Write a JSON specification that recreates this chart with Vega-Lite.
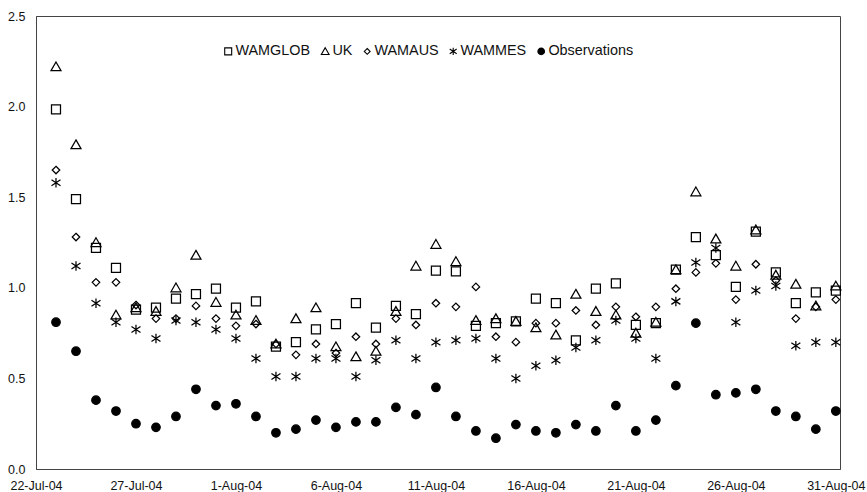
{
  "$schema": "https://vega.github.io/schema/vega-lite/v6.json",
  "autosize": {"type": "none"},
  "width": 804,
  "height": 453,
  "padding": {"left": 36, "top": 16, "right": 27, "bottom": 23},
  "background": "white",
  "data": {
    "values": [
      {"date": "2004-07-23", "WAMGLOB": 1.985, "UK": 2.22, "WAMAUS": 1.65, "WAMMES": 1.58, "Observations": 0.81},
      {"date": "2004-07-24", "WAMGLOB": 1.49, "UK": 1.79, "WAMAUS": 1.28, "WAMMES": 1.12, "Observations": 0.65},
      {"date": "2004-07-25", "WAMGLOB": 1.22, "UK": 1.25, "WAMAUS": 1.03, "WAMMES": 0.915, "Observations": 0.38},
      {"date": "2004-07-26", "WAMGLOB": 1.11, "UK": 0.85, "WAMAUS": 1.03, "WAMMES": 0.81, "Observations": 0.32},
      {"date": "2004-07-27", "WAMGLOB": 0.88, "UK": 0.89, "WAMAUS": 0.905, "WAMMES": 0.77, "Observations": 0.25},
      {"date": "2004-07-28", "WAMGLOB": 0.89, "UK": 0.87, "WAMAUS": 0.83, "WAMMES": 0.72, "Observations": 0.23},
      {"date": "2004-07-29", "WAMGLOB": 0.94, "UK": 1.0, "WAMAUS": 0.83, "WAMMES": 0.82, "Observations": 0.29},
      {"date": "2004-07-30", "WAMGLOB": 0.965, "UK": 1.18, "WAMAUS": 0.9, "WAMMES": 0.81, "Observations": 0.44},
      {"date": "2004-07-31", "WAMGLOB": 0.995, "UK": 0.92, "WAMAUS": 0.83, "WAMMES": 0.77, "Observations": 0.35},
      {"date": "2004-08-01", "WAMGLOB": 0.89, "UK": 0.85, "WAMAUS": 0.79, "WAMMES": 0.72, "Observations": 0.36},
      {"date": "2004-08-02", "WAMGLOB": 0.925, "UK": 0.82, "WAMAUS": 0.8, "WAMMES": 0.61, "Observations": 0.29},
      {"date": "2004-08-03", "WAMGLOB": 0.675, "UK": 0.69, "WAMAUS": 0.69, "WAMMES": 0.51, "Observations": 0.2},
      {"date": "2004-08-04", "WAMGLOB": 0.7, "UK": 0.83, "WAMAUS": 0.63, "WAMMES": 0.51, "Observations": 0.22},
      {"date": "2004-08-05", "WAMGLOB": 0.77, "UK": 0.89, "WAMAUS": 0.69, "WAMMES": 0.61, "Observations": 0.27},
      {"date": "2004-08-06", "WAMGLOB": 0.8, "UK": 0.675, "WAMAUS": 0.64, "WAMMES": 0.61, "Observations": 0.23},
      {"date": "2004-08-07", "WAMGLOB": 0.915, "UK": 0.62, "WAMAUS": 0.73, "WAMMES": 0.51, "Observations": 0.26},
      {"date": "2004-08-08", "WAMGLOB": 0.78, "UK": 0.65, "WAMAUS": 0.69, "WAMMES": 0.6, "Observations": 0.26},
      {"date": "2004-08-09", "WAMGLOB": 0.9, "UK": 0.87, "WAMAUS": 0.83, "WAMMES": 0.71, "Observations": 0.34},
      {"date": "2004-08-10", "WAMGLOB": 0.855, "UK": 1.12, "WAMAUS": 0.795, "WAMMES": 0.61, "Observations": 0.3},
      {"date": "2004-08-11", "WAMGLOB": 1.095, "UK": 1.24, "WAMAUS": 0.915, "WAMMES": 0.7, "Observations": 0.45},
      {"date": "2004-08-12", "WAMGLOB": 1.09, "UK": 1.145, "WAMAUS": 0.895, "WAMMES": 0.71, "Observations": 0.29},
      {"date": "2004-08-13", "WAMGLOB": 0.79, "UK": 0.82, "WAMAUS": 1.005, "WAMMES": 0.72, "Observations": 0.21},
      {"date": "2004-08-14", "WAMGLOB": 0.805, "UK": 0.83, "WAMAUS": 0.73, "WAMMES": 0.61, "Observations": 0.17},
      {"date": "2004-08-15", "WAMGLOB": 0.815, "UK": 0.815, "WAMAUS": 0.7, "WAMMES": 0.5, "Observations": 0.245},
      {"date": "2004-08-16", "WAMGLOB": 0.94, "UK": 0.78, "WAMAUS": 0.805, "WAMMES": 0.57, "Observations": 0.21},
      {"date": "2004-08-17", "WAMGLOB": 0.915, "UK": 0.74, "WAMAUS": 0.805, "WAMMES": 0.6, "Observations": 0.2},
      {"date": "2004-08-18", "WAMGLOB": 0.71, "UK": 0.965, "WAMAUS": 0.875, "WAMMES": 0.67, "Observations": 0.245},
      {"date": "2004-08-19", "WAMGLOB": 0.995, "UK": 0.87, "WAMAUS": 0.795, "WAMMES": 0.71, "Observations": 0.21},
      {"date": "2004-08-20", "WAMGLOB": 1.025, "UK": 0.85, "WAMAUS": 0.895, "WAMMES": 0.82, "Observations": 0.35},
      {"date": "2004-08-21", "WAMGLOB": 0.795, "UK": 0.75, "WAMAUS": 0.84, "WAMMES": 0.72, "Observations": 0.21},
      {"date": "2004-08-22", "WAMGLOB": 0.805, "UK": 0.81, "WAMAUS": 0.895, "WAMMES": 0.61, "Observations": 0.27},
      {"date": "2004-08-23", "WAMGLOB": 1.1, "UK": 1.1, "WAMAUS": 0.995, "WAMMES": 0.925, "Observations": 0.46},
      {"date": "2004-08-24", "WAMGLOB": 1.28, "UK": 1.53, "WAMAUS": 1.085, "WAMMES": 1.14, "Observations": 0.805},
      {"date": "2004-08-25", "WAMGLOB": 1.18, "UK": 1.27, "WAMAUS": 1.135, "WAMMES": 1.22, "Observations": 0.41},
      {"date": "2004-08-26", "WAMGLOB": 1.005, "UK": 1.12, "WAMAUS": 0.935, "WAMMES": 0.81, "Observations": 0.42},
      {"date": "2004-08-27", "WAMGLOB": 1.31, "UK": 1.32, "WAMAUS": 1.13, "WAMMES": 0.985, "Observations": 0.44},
      {"date": "2004-08-28", "WAMGLOB": 1.085, "UK": 1.07, "WAMAUS": 1.04, "WAMMES": 1.01, "Observations": 0.32},
      {"date": "2004-08-29", "WAMGLOB": 0.915, "UK": 1.02, "WAMAUS": 0.83, "WAMMES": 0.68, "Observations": 0.29},
      {"date": "2004-08-30", "WAMGLOB": 0.975, "UK": 0.9, "WAMAUS": 0.895, "WAMMES": 0.7, "Observations": 0.22},
      {"date": "2004-08-31", "WAMGLOB": 0.985, "UK": 1.01, "WAMAUS": 0.935, "WAMMES": 0.7, "Observations": 0.32}
    ]
  },
  "transform": [
    {"fold": ["WAMGLOB", "UK", "WAMAUS", "WAMMES", "Observations"], "as": ["series", "value"]}
  ],
  "mark": {"type": "point", "size": 100, "strokeWidth": 1.25, "opacity": 1},
  "encoding": {
    "x": {
      "field": "date",
      "type": "temporal",
      "title": null,
      "scale": {
        "type": "utc",
        "domain": [
          {"year": 2004, "month": 7, "date": 22, "utc": true},
          {"year": 2004, "month": 8, "date": 31, "hours": 5, "utc": true}
        ]
      },
      "axis": {
        "values": [
          {"year": 2004, "month": 7, "date": 22, "utc": true},
          {"year": 2004, "month": 7, "date": 27, "utc": true},
          {"year": 2004, "month": 8, "date": 1, "utc": true},
          {"year": 2004, "month": 8, "date": 6, "utc": true},
          {"year": 2004, "month": 8, "date": 11, "utc": true},
          {"year": 2004, "month": 8, "date": 16, "utc": true},
          {"year": 2004, "month": 8, "date": 21, "utc": true},
          {"year": 2004, "month": 8, "date": 26, "utc": true},
          {"year": 2004, "month": 8, "date": 31, "utc": true}
        ],
        "format": "%-d-%b-%y",
        "grid": false,
        "ticks": false,
        "labelPadding": 10,
        "labelAngle": 0,
        "labelFlush": false,
        "labelOverlap": false
      }
    },
    "y": {
      "field": "value",
      "type": "quantitative",
      "title": null,
      "scale": {"domain": [0, 2.5], "nice": false, "zero": true},
      "axis": {
        "values": [0, 0.5, 1, 1.5, 2, 2.5],
        "format": ".1f",
        "grid": false,
        "ticks": false,
        "labelPadding": 11
      }
    },
    "shape": {
      "field": "series",
      "type": "nominal",
      "title": null,
      "scale": {
        "domain": ["WAMGLOB", "UK", "WAMAUS", "WAMMES", "Observations"],
        "range": [
          "M-0.9,-0.9L0.9,-0.9L0.9,0.9L-0.9,0.9Z",
          "M0,-0.95L1,0.8L-1,0.8Z",
          "M0,-0.75L0.75,0L0,0.75L-0.75,0Z",
          "M0,-0.95L0,0.95M-0.9,-0.6L0.9,0.6M-0.9,0.6L0.9,-0.6",
          "M-0.85,0A0.85,0.85,0,1,1,0.85,0A0.85,0.85,0,1,1,-0.85,0Z"
        ]
      }
    },
    "fill": {
      "field": "series",
      "type": "nominal",
      "title": null,
      "scale": {
        "domain": ["WAMGLOB", "UK", "WAMAUS", "WAMMES", "Observations"],
        "range": ["transparent", "transparent", "transparent", "transparent", "black"]
      }
    },
    "stroke": {
      "field": "series",
      "type": "nominal",
      "title": null,
      "scale": {
        "domain": ["WAMGLOB", "UK", "WAMAUS", "WAMMES", "Observations"],
        "range": ["black", "black", "black", "black", "black"]
      }
    }
  },
  "config": {
    "font": "Liberation Sans",
    "view": {"stroke": "#444", "strokeWidth": 1},
    "axis": {
      "domainColor": "#444",
      "domainWidth": 1,
      "labelFont": "Liberation Sans",
      "labelFontSize": 12.5,
      "labelColor": "#111"
    },
    "legend": {
      "orient": "none",
      "direction": "horizontal",
      "legendX": 185,
      "legendY": 28,
      "padding": 0,
      "labelFont": "Liberation Sans",
      "labelFontSize": 14.4,
      "labelColor": "#111",
      "labelOffset": 0,
      "columnPadding": 7,
      "symbolSize": 60,
      "symbolStrokeWidth": 1.1
    }
  }
}
